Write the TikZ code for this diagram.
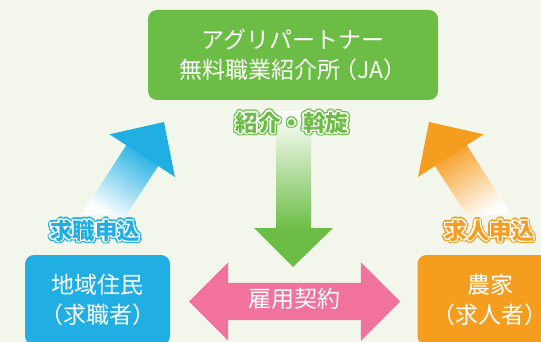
\documentclass[tikz,border=0pt]{standalone}
\usepackage{fontspec}
\setmainfont{Noto Sans CJK JP}
\usepackage[copies]{contour}
\usepackage{tikz}
\usetikzlibrary{shapes.arrows}

\definecolor{bgcream}{HTML}{F3F7EB}
\definecolor{jagreen}{HTML}{6CBD45}
\definecolor{jablue}{HTML}{20AEE3}
\definecolor{jaorange}{HTML}{F59D1F}
\definecolor{japink}{HTML}{F0729D}

\newcommand{\tagtext}[2]{{\contourlength{2.6pt}\rlap{\contour{#1}{\textcolor{#1}{#2}}}}{\contourlength{1.3pt}\contour{white}{\textcolor{#1}{#2}}}}

\begin{document}
\begin{tikzpicture}[x=1pt,y=-1pt,
	box/.style={rounded corners=9pt, text=white, align=center,
		font=\fontsize{23}{30}\selectfont, minimum width=145pt, minimum height=90pt},
	tag/.style={font=\fontsize{22.5}{22.5}\selectfont\bfseries, inner sep=0pt}]
	
	\clip (0,0) rectangle (541,342);
	\fill[bgcream] (0,0) rectangle (541,342);
	
	\node[box, fill=jagreen, minimum width=290pt] (JA) at (293,55) {アグリパートナー\\無料職業紹介所\kern-.25em（JA）};
	\node[box, fill=jablue] (Jumin) at (97.5,300) {地域住民\\\kern-.4em（求職者）\kern-.4em};
	\node[box, fill=jaorange] (Noka) at (490,300) {農家\\\kern-.4em（求人者）\kern-.4em};
	
	\shade[bottom color=white, top color=jablue, shading angle=-33]
		(81,215) -- (128.5,141.8) -- (160.3,162.6) -- (126.3,215) -- cycle;
	\fill[jablue] (109.5,134.3) -- (164,122) -- (174.9,176.9) -- cycle;
	
	\shade[bottom color=white, top color=jaorange, shading angle=33]
		(512,215) -- (464.5,141.8) -- (432.7,162.6) -- (466.7,215) -- cycle;
	\fill[jaorange] (483.5,134.3) -- (429,122) -- (418.1,176.9) -- cycle;
	
	\shade[top color=white, bottom color=jagreen] (276,112) rectangle (311,230);
	\fill[jagreen] (254,228) -- (333,228) -- (293,267) -- cycle;
	
	\node[double arrow, fill=japink, text=white, font=\fontsize{23}{23}\selectfont,
		double arrow tip angle=90, double arrow head extend=20.5pt,
		text height=15pt, text depth=4pt, inner ysep=9pt, minimum height=211pt]
		(Keiyaku) at (294.5,301.5) {雇用契約};
	
	\node[tag] (Shokai) at (292,124) {\tagtext{jagreen}{紹介・斡旋}};
	\node[tag] (Kyushoku) at (95,232) {\tagtext{jablue}{求職申込}};
	\node[tag] (Kyujin) at (489.5,232) {\tagtext{jaorange}{求人申込}};
	
\end{tikzpicture}
\end{document}
